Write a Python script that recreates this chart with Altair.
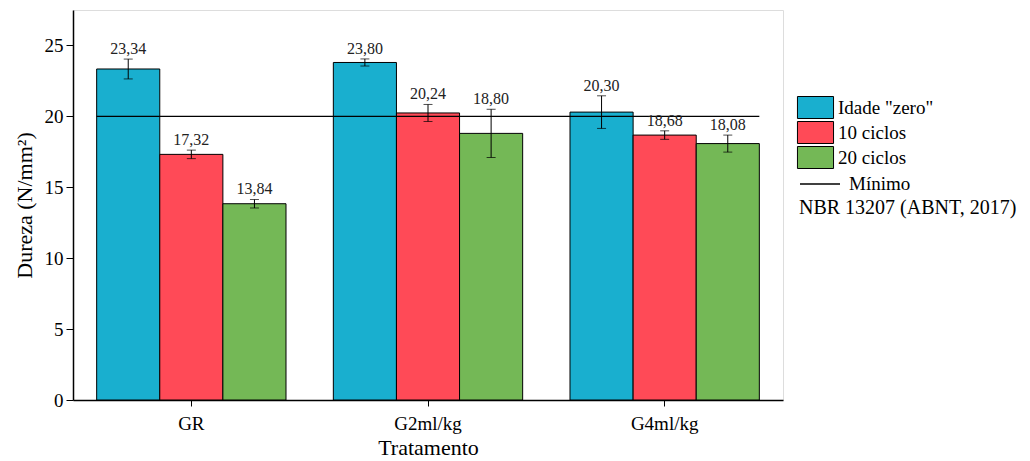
import altair as alt
import pandas as pd

grupos = ["GR", "G2ml/kg", "G4ml/kg"]
series = ['Idade "zero"', "10 ciclos", "20 ciclos"]
cores = ["#19AFCF", "#FF4A57", "#74B856"]

idade_zero = [23.34, 23.80, 20.30]
ciclos_10 = [17.32, 20.24, 18.68]
ciclos_20 = [13.84, 18.80, 18.08]
erro_zero = [0.70, 0.25, 1.15]
erro_10 = [0.30, 0.60, 0.30]
erro_20 = [0.30, 1.70, 0.60]
minimo = 20.0
y_ticks = [0, 5, 10, 15, 20, 25]
y_minor = [2.5, 7.5, 12.5, 17.5, 22.5]

rows = []
for s, vals, errs in zip(series, [idade_zero, ciclos_10, ciclos_20], [erro_zero, erro_10, erro_20]):
    for g, v, e in zip(grupos, vals, errs):
        rows.append({"grupo": g, "serie": s, "valor": v, "lo": v - e, "hi": v + e,
                     "rotulo": f"{v:.2f}".replace(".", ",")})
df = pd.DataFrame(rows)
df_min = pd.DataFrame([{"ini": grupos[0], "fim": grupos[-1], "y": minimo, "nome": "Mínimo"}])

FONT = "Liberation Serif"

x_enc = alt.X("grupo:N", sort=grupos,
              scale=alt.Scale(domain=grupos, paddingInner=0.2, paddingOuter=0.1),
              axis=alt.Axis(title="Tratamento", labelAngle=0, labelFontSize=19, titleFontSize=22,
                            labelFont=FONT, titleFont=FONT, labelColor="black", titleColor="black",
                            titleFontWeight="normal",
                            tickSize=6, tickColor="black", domainColor="black", domainWidth=1.5,
                            labelPadding=8, titlePadding=4))
xoff = alt.XOffset("serie:N", sort=series, scale=alt.Scale(domain=series, paddingInner=0, paddingOuter=0))
y_scale = alt.Scale(domain=[0, 27.5], nice=False, zero=True)

bars = alt.Chart(df).mark_bar(stroke="black", strokeWidth=1).encode(
    x=x_enc,
    xOffset=xoff,
    y=alt.Y("valor:Q", scale=y_scale,
            axis=alt.Axis(title="Dureza (N/mm²)", values=sorted(y_ticks + y_minor),
                          labelExpr="datum.value % 5 === 0 ? datum.label : ''",
                          tickSize={"condition": {"test": "datum.value % 5 === 0", "value": 7}, "value": 4},
                          labelFontSize=19, titleFontSize=22, labelFont=FONT, titleFont=FONT,
                          titleFontWeight="normal",
                          labelColor="black", titleColor="black", tickColor="black",
                          domainColor="black", domainWidth=1.5, grid=False, labelPadding=3,
                          titlePadding=8)),
    fill=alt.Fill("serie:N", sort=series, scale=alt.Scale(domain=series, range=cores),
                  legend=alt.Legend(title=None, orient="none", legendX=731, legendY=86,
                                    symbolType="M-1.64,-1H1.64V1H-1.64Z", symbolSize=484,
                                    symbolStrokeColor="black", symbolStrokeWidth=1,
                                    labelFont=FONT, labelFontSize=19, labelColor="black",
                                    labelOffset=11, rowPadding=-2, padding=0)),
)

err = alt.Chart(df).mark_rule(color="black", strokeWidth=1).encode(
    x=alt.X("grupo:N", sort=grupos), xOffset=xoff,
    y=alt.Y("lo:Q", scale=y_scale), y2="hi:Q")
cap_lo = alt.Chart(df).mark_tick(color="black", size=9, thickness=1).encode(
    x=alt.X("grupo:N", sort=grupos), xOffset=xoff, y=alt.Y("lo:Q", scale=y_scale))
cap_hi = alt.Chart(df).mark_tick(color="black", size=9, thickness=1).encode(
    x=alt.X("grupo:N", sort=grupos), xOffset=xoff, y=alt.Y("hi:Q", scale=y_scale))

labels = alt.Chart(df).mark_text(baseline="bottom", dy=-2, fontSize=16, font=FONT, color="#222").encode(
    x=alt.X("grupo:N", sort=grupos), xOffset=xoff,
    y=alt.Y("hi:Q", scale=y_scale), text="rotulo:N")

rule = alt.Chart(df_min).mark_rule(strokeWidth=1.3).encode(
    x=alt.X("ini:N", sort=grupos, bandPosition=0),
    x2=alt.X2("fim", bandPosition=1),
    y=alt.Y("y:Q", scale=y_scale),
    stroke=alt.Stroke("nome:N", scale=alt.Scale(domain=["Mínimo"], range=["black"]),
                      legend=alt.Legend(title="NBR 13207 (ABNT, 2017)", titleOrient="bottom",
                                        orient="none", legendX=726, legendY=153,
                                        symbolType="stroke", symbolSize=1600, symbolStrokeWidth=1.3,
                                        labelFont=FONT, labelFontSize=19, labelColor="black",
                                        labelOffset=8, titleFont=FONT, titleFontSize=20,
                                        titleFontWeight="normal", titleColor="black",
                                        titleLimit=400, titlePadding=4, padding=0)),
)

chart = alt.layer(bars, rule, err, cap_lo, cap_hi, labels).properties(
    width=710, height=390,
    padding={"left": 5, "top": 2, "right": 0, "bottom": 2},
).configure_view(stroke="black", strokeWidth=1).configure(background="white").configure_legend(
    labelFont=FONT, titleFont=FONT, labelFontSize=19, titleFontWeight="normal",
    labelLimit=400, titleLimit=400
).configure_text(font=FONT)

chart.save("out.html", embed_options={"renderer": "svg", "actions": False})
